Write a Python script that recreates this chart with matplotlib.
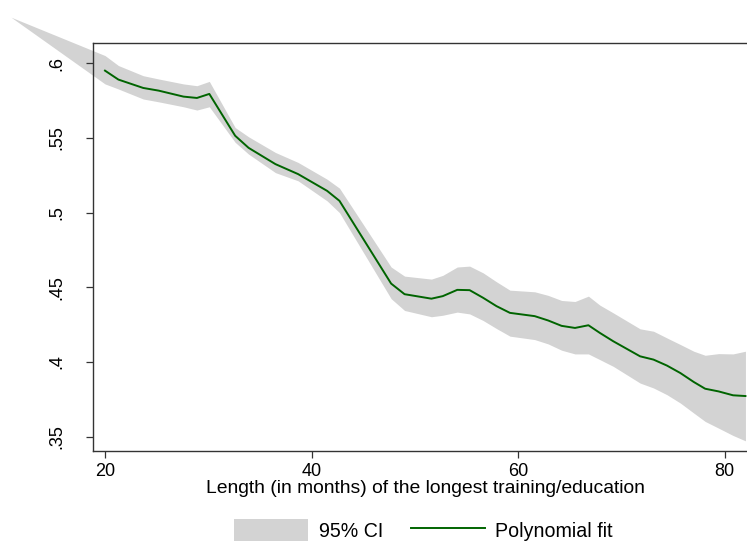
import numpy as np
import matplotlib.pyplot as plt
from matplotlib.patches import Patch
from matplotlib.lines import Line2D

plt.rcParams['font.family'] = ['Liberation Sans', 'DejaVu Sans']

# length of longest training/education (months)
months = [10.9, 20.0, 21.3, 23.7, 25.2, 27.6, 28.9, 30.1, 32.6, 33.9, 36.5, 38.7,
          41.5, 42.7, 47.7, 49.0, 51.6, 52.7, 54.1, 55.3, 56.6, 57.9, 59.2,
          61.6, 62.9, 64.2, 65.5, 66.8, 67.9, 69.2, 71.8, 73.1, 74.4, 75.7,
          77.0, 78.1, 79.4, 80.8, 82.0]

# polynomial fit (none drawn at the first point)
fit = [np.nan, 0.5951, 0.5891, 0.5835, 0.5817, 0.5777, 0.5768, 0.5795, 0.5515,
       0.5434, 0.5325, 0.5258, 0.5146, 0.5079, 0.4525, 0.4454, 0.4424, 0.4441,
       0.4483, 0.4481, 0.4430, 0.4374, 0.4329, 0.4307, 0.4278, 0.4242, 0.4228,
       0.4246, 0.4195, 0.4139, 0.4038, 0.4016, 0.3976, 0.3926, 0.3866, 0.3821,
       0.3803, 0.3777, 0.3772]

ci_hi = [0.6309, 0.6052, 0.5985, 0.5917, 0.5895, 0.5862, 0.5850, 0.5879, 0.5570,
         0.5508, 0.5403, 0.5336, 0.5224, 0.5164, 0.4636, 0.4575, 0.4555, 0.4580,
         0.4636, 0.4642, 0.4597, 0.4537, 0.4481, 0.4470, 0.4446, 0.4412, 0.4405,
         0.4441, 0.4381, 0.4329, 0.4222, 0.4206, 0.4161, 0.4117, 0.4072, 0.4045,
         0.4056, 0.4054, 0.4072]

ci_lo = [0.6309, 0.5862, 0.5828, 0.5761, 0.5742, 0.5709, 0.5687, 0.5709, 0.5471,
         0.5392, 0.5268, 0.5213, 0.5079, 0.5000, 0.4424, 0.4345, 0.4303, 0.4313,
         0.4334, 0.4322, 0.4278, 0.4224, 0.4173, 0.4150, 0.4121, 0.4079, 0.4054,
         0.4054, 0.4016, 0.3971, 0.3859, 0.3826, 0.3781, 0.3725, 0.3658, 0.3602,
         0.3557, 0.3508, 0.3472]

xticks = [20, 40, 60, 80]
yticks = [0.35, 0.4, 0.45, 0.5, 0.55, 0.6]
ytick_labels = ['.35', '.4', '.45', '.5', '.55', '.6']

band_color = '#d3d3d3'
line_color = '#006400'

fig = plt.figure(figsize=(7.47, 5.41), dpi=100)
W, H = 747, 541
ax = fig.add_axes([92.7 / W, 1 - 450.7 / H, (W - 92.7) / W, (450.7 - 43.3) / H])

ax.fill_between(months, ci_lo, ci_hi, color=band_color, lw=0, clip_on=False, zorder=1)
ax.plot(months, fit, color=line_color, lw=1.4, zorder=2)

ax.set_xlim(18.81, 82.15)
ax.set_ylim(0.3406, 0.6134)
ax.set_xticks(xticks)
ax.set_yticks(yticks)
ax.set_yticklabels(ytick_labels, rotation=90, va='center')

for side in ['left', 'bottom', 'top']:
    ax.spines[side].set_color('#333333')
    ax.spines[side].set_linewidth(1.0)
ax.spines['right'].set_visible(False)

ax.tick_params(axis='both', length=5, width=0.9, color='#333333', labelsize=13)
ax.tick_params(axis='x', pad=4)
ax.tick_params(axis='y', pad=15)
ax.set_xlabel('Length (in months) of the longest training/education', fontsize=13.9, labelpad=0)
ax.xaxis.label.set_x(0.509)

handles = [Patch(facecolor=band_color, edgecolor='none', label='95% CI'),
           Line2D([], [], color=line_color, lw=1.4, label='Polynomial fit')]
fig.legend(handles=handles, loc='center', bbox_to_anchor=(423.7 / W, 1 - 531 / H),
           ncol=2, frameon=False, fontsize=14.1, handlelength=3.75, handleheight=1.5,
           handletextpad=0.55, columnspacing=1.45)

fig.savefig('out.png', dpi=100)
